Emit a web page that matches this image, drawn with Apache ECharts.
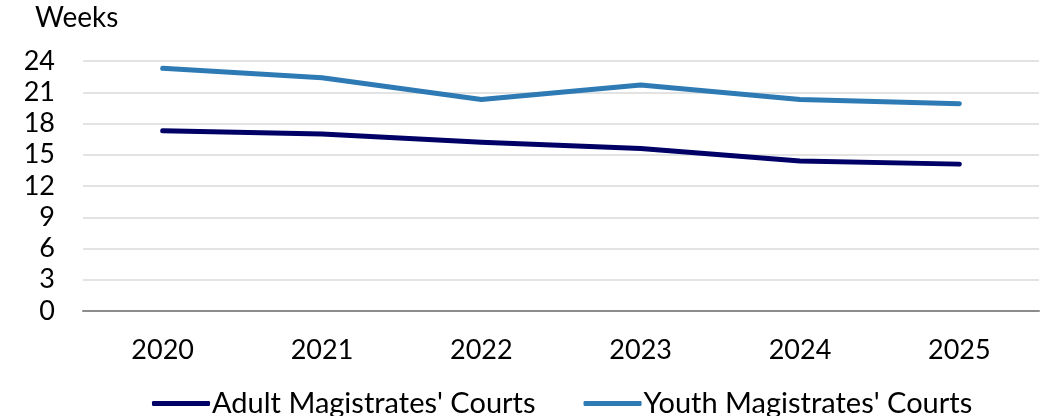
<!DOCTYPE html>
<html>
<head>
<meta charset="utf-8">
<script src="https://cdn.jsdelivr.net/npm/echarts@6/dist/echarts.min.js"></script>
<style>
  html, body { margin: 0; padding: 0; background: #fff; }
  #chart { width: 1043px; height: 416px; }
</style>
</head>
<body>
<div id="chart"></div>
<script>
const years = ['2020', '2021', '2022', '2023', '2024', '2025'];
const adult = [17.3, 17.0, 16.2, 15.6, 14.4, 14.1];
const youth = [23.3, 22.4, 20.3, 21.7, 20.3, 19.9];
const yTicks = { min: 0, max: 24, interval: 3 };

const font = 'Lato, "Liberation Sans", sans-serif';
const chart = echarts.init(document.getElementById('chart'));

chart.setOption({
  animation: false,
  textStyle: { fontFamily: font },
  grid: { left: 83, right: 4, top: 61, bottom: 105 },
  graphic: [{
    type: 'text', left: 35, top: 4,
    style: { text: 'Weeks', fontSize: 28, fill: '#000', fontFamily: font }
  }],
  legend: {
    top: 384, left: 147,
    itemWidth: 58, itemHeight: 5, itemGap: 48,
    icon: 'roundRect',
    textStyle: { fontSize: 29, color: '#000', padding: [0, 0, 0, -3] },
    data: ["Adult Magistrates' Courts", "Youth Magistrates' Courts"]
  },
  xAxis: {
    type: 'category',
    data: years,
    axisLine: { lineStyle: { color: '#8c8c8c', width: 2 } },
    axisTick: { alignWithLabel: true, length: 7, lineStyle: { color: '#8c8c8c', width: 1 } },
    axisLabel: { fontSize: 27, color: '#000', margin: 26 }
  },
  yAxis: {
    type: 'value',
    min: yTicks.min, max: yTicks.max, interval: yTicks.interval,
    axisLine: { show: false },
    axisTick: { show: false },
    splitLine: { lineStyle: { color: '#e3e3e3', width: 2 } },
    axisLabel: { fontSize: 27, color: '#000', margin: 28 }
  },
  series: [
    {
      name: "Adult Magistrates' Courts", type: 'line', data: adult,
      symbol: 'none', color: '#000066',
      lineStyle: { width: 5, cap: 'round', join: 'round' }
    },
    {
      name: "Youth Magistrates' Courts", type: 'line', data: youth,
      symbol: 'none', color: '#2E7AB4',
      lineStyle: { width: 5, cap: 'round', join: 'round' }
    }
  ]
});
</script>
</body>
</html>
